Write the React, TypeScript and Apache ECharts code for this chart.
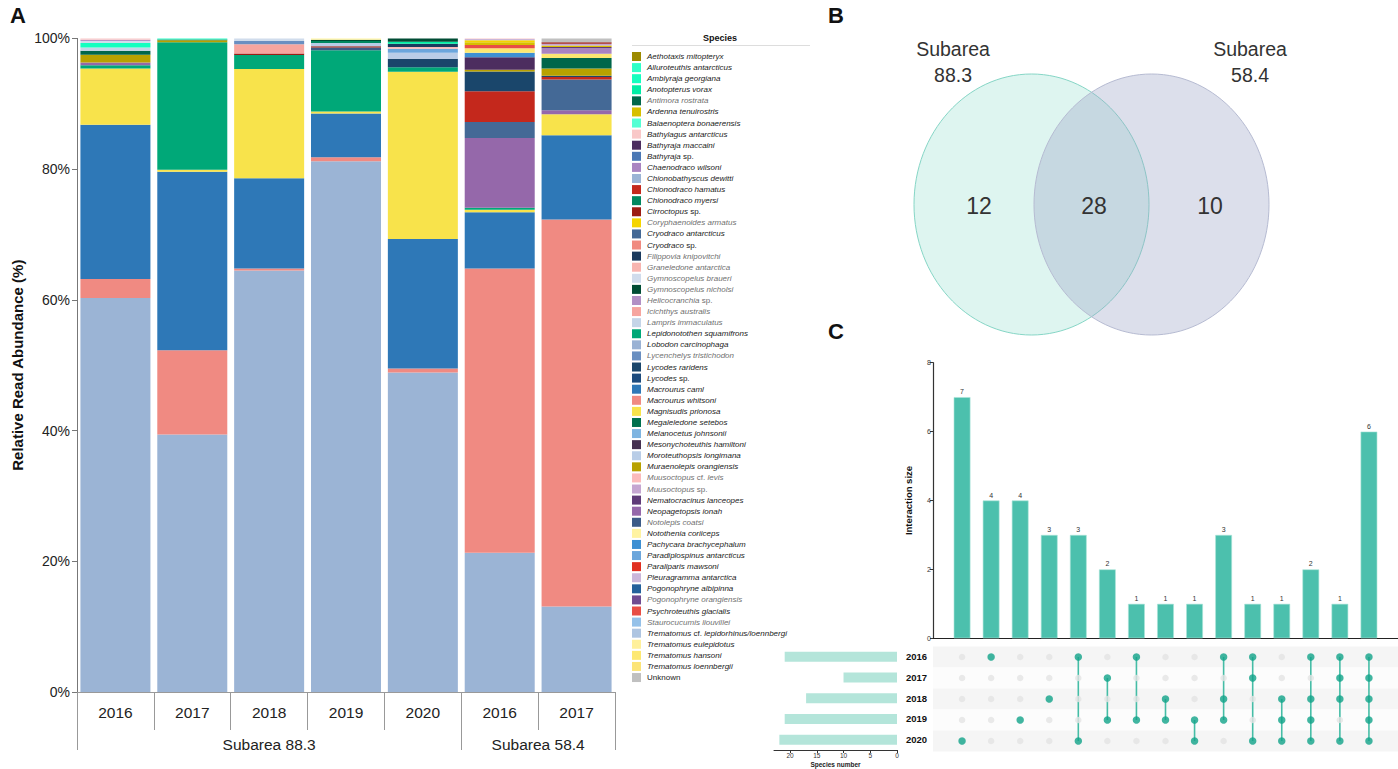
import React, { useEffect, useRef } from 'react';
import * as echarts from 'echarts';

// ---------- Panel A data ----------
const categories = ['88.3-2016', '88.3-2017', '88.3-2018', '88.3-2019', '88.3-2020', '58.4-2016', '58.4-2017'];
const subareaLabels = ['Subarea 88.3', 'Subarea 58.4'];
const subareaCenters = [2.5, 6];
const subareaBoundaries = [0, 5, 7];

const speciesNames = [
  'Aethotaxis mitopteryx', 'Alluroteuthis antarcticus', 'Amblyraja georgiana', 'Anotopterus vorax',
  'Antimora rostrata', 'Ardenna tenuirostris', 'Balaenoptera bonaerensis', 'Bathylagus antarcticus',
  'Bathyraja maccaini', 'Bathyraja sp.', 'Chaenodraco wilsoni', 'Chionobathyscus dewitti',
  'Chionodraco hamatus', 'Chionodraco myersi', 'Cirroctopus sp.', 'Coryphaenoides armatus',
  'Cryodraco antarcticus', 'Cryodraco sp.', 'Filippovia knipovitchi', 'Graneledone antarctica',
  'Gymnoscopelus braueri', 'Gymnoscopelus nicholsi', 'Helicocranchia sp.', 'Icichthys australis',
  'Lampris immaculatus', 'Lepidonotothen squamifrons', 'Lobodon carcinophaga', 'Lycenchelys tristichodon',
  'Lycodes raridens', 'Lycodes sp.', 'Macrourus caml', 'Macrourus whitsoni',
  'Magnisudis prionosa', 'Megaleledone setebos', 'Melanocetus johnsonii', 'Mesonychoteuthis hamiltoni',
  'Moroteuthopsis longimana', 'Muraenolepis orangiensis', 'Muusoctopus cf. levis', 'Muusoctopus sp.',
  'Nematocracinus lanceopes', 'Neopagetopsis ionah', 'Notolepis coatsi', 'Notothenia coriiceps',
  'Pachycara brachycephalum', 'Paradiplospinus antarcticus', 'Paraliparis mawsoni', 'Pleuragramma antarctica',
  'Pogonophryne albipinna', 'Pogonophryne orangiensis', 'Psychroteuthis glacialis', 'Staurocucumis liouvillei',
  'Trematomus cf. lepidorhinus/loennbergi', 'Trematomus eulepidotus', 'Trematomus hansoni', 'Trematomus loennbergii',
  'Unknown',
];

const speciesColors = [
  '#9c8a00', '#2effc8', '#14ffbf', '#00eea6',
  '#00664a', '#d7bf00', '#55ffd4', '#f9c8c8',
  '#4c2d5f', '#4b78b5', '#aa84c1', '#9bb4d5',
  '#c4281c', '#00875f', '#9c1c14', '#f5d500',
  '#446996', '#f08a80', '#1a3a5e', '#f8b5b0',
  '#d0dcec', '#004d34', '#b290c5', '#f6a59f',
  '#c5d5e8', '#00a878', '#9ab2d4', '#6a8fc1',
  '#1a466b', '#1c4b7d', '#2e78b7', '#f08a82',
  '#f8e34b', '#00704e', '#7fb5e1', '#453050',
  '#b9cde7', '#b8a100', '#fbbbbb', '#c5a6d1',
  '#5f3b78', '#9568aa', '#3c5b87', '#fff3a1',
  '#3e90d3', '#6ba6dc', '#e03021', '#cab6da',
  '#23619b', '#6f4b91', '#e84e45', '#95c1e9',
  '#aec5e1', '#fff09b', '#fde871', '#fce477',
  '#c0c0c0',
];

const graySpecies = [
  'Antimora rostrata', 'Coryphaenoides armatus', 'Filippovia knipovitchi', 'Graneledone antarctica',
  'Gymnoscopelus braueri', 'Gymnoscopelus nicholsi', 'Helicocranchia sp.', 'Icichthys australis',
  'Lampris immaculatus', 'Lycenchelys tristichodon', 'Muusoctopus cf. levis', 'Muusoctopus sp.',
  'Notolepis coatsi', 'Pogonophryne orangiensis', 'Staurocucumis liouvillei',
];

// stacking order, bottom -> top
const stackOrder = [
  'Chionobathyscus dewitti', 'Macrourus whitsoni', 'Macrourus caml', 'Magnisudis prionosa',
  'Lepidonotothen squamifrons', 'Neopagetopsis ionah', 'Cryodraco antarcticus', 'Chionodraco hamatus',
  'Lycodes raridens', 'Notolepis coatsi', 'Muraenolepis orangiensis', 'Antimora rostrata',
  'Bathyraja maccaini', 'Pachycara brachycephalum', 'Trematomus hansoni', 'Chaenodraco wilsoni',
  'Psychroteuthis glacialis', 'Nematocracinus lanceopes', 'Ardenna tenuirostris', 'Coryphaenoides armatus',
  'Pleuragramma antarctica', 'Muusoctopus sp.', 'Cirroctopus sp.', 'Moroteuthopsis longimana',
  'Paradiplospinus antarcticus', 'Muusoctopus cf. levis', 'Icichthys australis', 'Lycenchelys tristichodon',
  'Filippovia knipovitchi', 'Lampris immaculatus', 'Chionodraco myersi', 'Amblyraja georgiana',
  'Anotopterus vorax', 'Gymnoscopelus nicholsi', 'Gymnoscopelus braueri', 'Notothenia coriiceps',
  'Helicocranchia sp.', 'Alluroteuthis antarcticus', 'Bathylagus antarcticus', 'Unknown',
];

// relative read abundance (%) per species in stackOrder, columns = categories
const abundance = [
  [60.3, 39.4, 64.5, 81.2, 48.9, 21.3, 13.1],
  [2.9, 12.9, 0.3, 0.6, 0.6, 43.5, 59.2],
  [23.6, 27.3, 13.8, 6.7, 19.8, 8.6, 12.9],
  [8.6, 0.3, 16.7, 0.3, 25.6, 0.4, 3.2],
  [0.5, 19.5, 2.15, 9.4, 0.7, 0.3, 0],
  [0.4, 0, 0, 0, 0, 10.65, 0.6],
  [0, 0, 0, 0, 0, 2.45, 4.7],
  [0, 0, 0, 0, 0, 4.7, 0.4],
  [0, 0, 0, 0, 1.3, 3.05, 0.2],
  [0, 0, 0, 0.4, 0, 0, 0],
  [1.2, 0.3, 0, 0, 0, 0.25, 1.1],
  [0.6, 0.15, 0, 0, 0, 0, 1.6],
  [0, 0, 0, 0, 0, 1.9, 0],
  [0, 0, 0, 0, 0, 0.7, 0],
  [0, 0, 0, 0, 0, 0.7, 0.65],
  [0, 0, 0, 0, 0, 0, 0.85],
  [0, 0, 0, 0, 0, 0.5, 0],
  [0, 0, 0, 0, 0, 0, 0.2],
  [0, 0, 0, 0, 0, 0.4, 0.2],
  [0, 0, 0, 0, 0, 0.3, 0],
  [0, 0, 0, 0, 0, 0.2, 0],
  [0, 0, 0, 0, 0, 0, 0.3],
  [0, 0, 0.25, 0.2, 0, 0, 0.2],
  [0, 0, 0, 0.5, 0.9, 0, 0],
  [0, 0, 0, 0, 0.6, 0, 0],
  [0, 0, 0, 0, 0.3, 0, 0],
  [0, 0, 1.4, 0, 0, 0, 0],
  [0, 0, 0.5, 0, 0, 0, 0],
  [0, 0, 0, 0, 0.5, 0, 0],
  [0.5, 0, 0, 0, 0, 0, 0],
  [0, 0, 0, 0.3, 0, 0, 0],
  [0.7, 0, 0, 0, 0, 0, 0],
  [0, 0, 0, 0, 0.3, 0, 0],
  [0, 0, 0, 0.2, 0.5, 0, 0],
  [0.3, 0, 0.4, 0, 0, 0, 0],
  [0, 0, 0, 0.2, 0, 0, 0],
  [0.2, 0, 0, 0, 0, 0, 0],
  [0, 0.15, 0, 0, 0, 0, 0],
  [0.2, 0, 0, 0, 0, 0.1, 0],
  [0, 0, 0, 0, 0, 0, 0.6],
];

// ---------- Panel B data ----------
const vennSetLabels = ['Subarea\n88.3', 'Subarea\n58.4'];
const vennCounts = [12, 28, 10];

// ---------- Panel C data ----------
const upsetSets = ['2016', '2017', '2018', '2019', '2020'];
const setSizes = [21, 10, 17, 21, 22];
const intersectionSizes = [7, 4, 4, 3, 3, 2, 1, 1, 1, 3, 1, 1, 2, 1, 6];
const intersectionMembers = [
  [4], [0], [3], [2], [0, 4], [1, 3], [0, 3], [2, 3], [3, 4],
  [0, 2, 3], [0, 1, 4], [2, 3, 4], [0, 2, 3, 4], [0, 1, 2, 4], [0, 1, 2, 3, 4],
];

const FONT = '"Liberation Sans", Arial, Helvetica, sans-serif';

function legendFormatter(name: string) {
  const gray = graySpecies.includes(name);
  const it = gray ? 'gi' : 'i';
  const nm = gray ? 'gn' : 'n';
  if (name === 'Unknown') return `{${nm}|Unknown}`;
  return name
    .split(' ')
    .map((p) => (p === 'sp.' || p === 'cf.' ? `{${nm}|${p}}` : `{${it}|${p}}`))
    .join(`{${it}| }`);
}

function buildOption() {
  const restNames = speciesNames.filter((n) => !stackOrder.includes(n));
  const barSeries = [...stackOrder, ...restNames].map((name) => {
    const idx = stackOrder.indexOf(name);
    const values = idx >= 0 ? abundance[idx] : categories.map(() => 0);
    return {
      type: 'bar',
      name,
      stack: 'abundance',
      xAxisIndex: 0,
      yAxisIndex: 0,
      barWidth: 70,
      data: values,
      itemStyle: { color: speciesColors[speciesNames.indexOf(name)] },
      emphasis: { disabled: true },
    };
  });

  const inactiveDots: number[][] = [];
  const activeDots: number[][] = [];
  intersectionMembers.forEach((m, c) => {
    upsetSets.forEach((_, r) => {
      (m.includes(r) ? activeDots : inactiveDots).push([c, r]);
    });
  });
  const connectors = intersectionMembers
    .map((m, c) => [c, Math.min(...m), Math.max(...m)])
    .filter((d) => d[1] !== d[2]);

  const richBase = { fontFamily: FONT, fontSize: 8, lineHeight: 9 };

  return {
    animation: false,
    textStyle: { fontFamily: FONT },
    grid: [
      { left: 77, top: 38.4, width: 538, height: 653.6 },
      { left: 933, top: 362.7, width: 465, height: 275.6 },
      { left: 933, top: 646.5, width: 465, height: 105 },
      { left: 774, top: 646.5, width: 123, height: 105 },
    ],
    legend: {
      show: true,
      orient: 'vertical',
      left: 632,
      top: 52,
      padding: 0,
      itemWidth: 9,
      itemHeight: 9,
      itemGap: 2.09,
      icon: 'rect',
      selectedMode: false,
      data: speciesNames,
      formatter: legendFormatter,
      textStyle: {
        fontFamily: FONT,
        fontSize: 8,
        lineHeight: 9,
        color: '#222',
        padding: [0, 0, 0, 1],
        rich: {
          i: { ...richBase, fontStyle: 'italic', color: '#222' },
          n: { ...richBase, color: '#222' },
          gi: { ...richBase, fontStyle: 'italic', color: '#6f6f6f' },
          gn: { ...richBase, color: '#6f6f6f' },
        },
      },
    },
    xAxis: [
      {
        gridIndex: 0,
        type: 'category',
        data: categories,
        axisLine: { lineStyle: { color: '#999', width: 1 } },
        axisTick: { show: true, interval: 0, length: 38, lineStyle: { color: '#999' } },
        axisLabel: {
          interval: 0,
          formatter: (v: string) => v.split('-')[1],
          fontSize: 15.5,
          color: '#222',
          margin: 12,
        },
        splitLine: { show: false },
      },
      {
        gridIndex: 0,
        type: 'value',
        position: 'bottom',
        min: 0,
        max: 7,
        axisLine: { show: false },
        splitLine: { show: false },
        axisTick: { show: true, length: 58, customValues: subareaBoundaries, lineStyle: { color: '#999' } },
        axisLabel: {
          customValues: subareaCenters,
          formatter: (v: number) => subareaLabels[subareaCenters.indexOf(v)] ?? '',
          fontSize: 15.5,
          color: '#222',
          margin: 44,
        },
      },
      {
        gridIndex: 1,
        type: 'value',
        min: -1,
        max: 15,
        axisLine: { show: true, onZero: false, lineStyle: { color: '#222', width: 1 } },
        axisTick: { show: false },
        axisLabel: { show: false },
        splitLine: { show: false },
      },
      {
        gridIndex: 2,
        type: 'value',
        min: -1,
        max: 15,
        show: false,
      },
      {
        gridIndex: 3,
        type: 'value',
        inverse: true,
        min: 0,
        max: 23,
        axisLine: { show: true, onZero: false, lineStyle: { color: '#333', width: 1 } },
        axisTick: { show: true, length: 3, customValues: [0, 5, 10, 15, 20], lineStyle: { color: '#333' } },
        axisLabel: { customValues: [0, 5, 10, 15, 20], fontSize: 6.5, color: '#333', margin: 2 },
        splitLine: { show: false },
        name: 'Species number',
        nameLocation: 'middle',
        nameGap: 11,
        nameTextStyle: { fontSize: 6.5, fontWeight: 'bold', color: '#222' },
      },
    ],
    yAxis: [
      {
        gridIndex: 0,
        type: 'value',
        min: 0,
        max: 100,
        interval: 20,
        axisLine: { show: true, onZero: false, lineStyle: { color: '#777', width: 1 } },
        axisTick: { show: true, length: 5, lineStyle: { color: '#777' } },
        axisLabel: { formatter: '{value}%', fontSize: 14, color: '#222', margin: 7 },
        splitLine: { show: false },
        name: 'Relative Read Abundance (%)',
        nameLocation: 'middle',
        nameGap: 52,
        nameTextStyle: { fontSize: 15, fontWeight: 'bold', color: '#111' },
      },
      {
        gridIndex: 1,
        type: 'value',
        min: 0,
        max: 8,
        interval: 2,
        axisLine: { show: true, onZero: false, lineStyle: { color: '#333', width: 1.2 } },
        axisTick: { show: true, length: 3, lineStyle: { color: '#333' } },
        axisLabel: { fontSize: 7, color: '#333', margin: 2 },
        splitLine: { show: false },
        name: 'Interaction size',
        nameLocation: 'middle',
        nameGap: 20,
        nameTextStyle: { fontSize: 9.5, fontWeight: 'bold', color: '#111' },
      },
      {
        gridIndex: 2,
        type: 'category',
        data: upsetSets,
        inverse: true,
        axisLine: { show: false },
        axisTick: { show: false },
        axisLabel: { show: false },
        splitLine: { show: false },
        splitArea: { show: true, areaStyle: { color: ['#f5f5f5', '#fcfcfc'] } },
      },
      {
        gridIndex: 3,
        type: 'category',
        data: upsetSets,
        inverse: true,
        position: 'right',
        axisLine: { show: false },
        axisTick: { show: false },
        axisLabel: { fontSize: 9.5, fontWeight: 'bold', color: '#111', margin: 9 },
        splitLine: { show: false },
      },
    ],
    series: [
      ...barSeries,
      {
        type: 'bar',
        name: 'intersections',
        xAxisIndex: 2,
        yAxisIndex: 1,
        barWidth: 16.7,
        data: intersectionSizes.map((v, i) => [i, v]),
        itemStyle: { color: '#4cc0ad', borderColor: '#a9e4d9', borderWidth: 0.6 },
        label: { show: true, position: 'top', distance: 2, fontSize: 7, color: '#333' },
        emphasis: { disabled: true },
      },
      {
        type: 'scatter',
        name: 'inactive',
        xAxisIndex: 3,
        yAxisIndex: 2,
        symbolSize: 6.5,
        data: inactiveDots,
        itemStyle: { color: '#e3e3e3' },
        emphasis: { disabled: true },
      },
      {
        type: 'custom',
        name: 'connectors',
        xAxisIndex: 3,
        yAxisIndex: 2,
        data: connectors,
        renderItem: (_p: any, api: any) => {
          const a = api.coord([api.value(0), api.value(1)]);
          const b = api.coord([api.value(0), api.value(2)]);
          return {
            type: 'line',
            shape: { x1: a[0], y1: a[1], x2: b[0], y2: b[1] },
            style: { stroke: '#45bda6', lineWidth: 1.6 },
          };
        },
      },
      {
        type: 'scatter',
        name: 'active',
        xAxisIndex: 3,
        yAxisIndex: 2,
        symbolSize: 7.5,
        data: activeDots,
        itemStyle: { color: '#10a388' },
        emphasis: { disabled: true },
      },
      {
        type: 'bar',
        name: 'setSizes',
        xAxisIndex: 4,
        yAxisIndex: 3,
        barWidth: 10,
        data: setSizes,
        itemStyle: { color: '#b4e5da' },
        emphasis: { disabled: true },
      },
    ],
    graphic: [
      { type: 'text', left: 10, top: 4, style: { text: 'A', fontSize: 22, fontWeight: 'bold', fill: '#111', fontFamily: FONT } },
      { type: 'text', left: 828, top: 4, style: { text: 'B', fontSize: 22, fontWeight: 'bold', fill: '#111', fontFamily: FONT } },
      { type: 'text', left: 828, top: 320, style: { text: 'C', fontSize: 22, fontWeight: 'bold', fill: '#111', fontFamily: FONT } },
      {
        type: 'text', x: 720, y: 38,
        style: { text: 'Species', fontSize: 9, fontWeight: 'bold', fill: '#111', align: 'center', verticalAlign: 'middle', fontFamily: FONT },
      },
      { type: 'line', shape: { x1: 632, y1: 45.5, x2: 810, y2: 45.5 }, style: { stroke: '#dddddd', lineWidth: 1 } },
      {
        type: 'ellipse', z: 1,
        shape: { cx: 1031.5, cy: 204.5, rx: 117.5, ry: 130.5 },
        style: { fill: 'rgba(125,215,195,0.25)', stroke: '#86d6c6', lineWidth: 1 },
      },
      {
        type: 'ellipse', z: 2,
        shape: { cx: 1151.5, cy: 204.5, rx: 117.5, ry: 130.5 },
        style: { fill: 'rgba(154,163,197,0.35)', stroke: '#b6bbd2', lineWidth: 1 },
      },
      {
        type: 'text', x: 953, y: 62, z: 3,
        style: { text: vennSetLabels[0], fontSize: 19.5, lineHeight: 26, fill: '#333', align: 'center', verticalAlign: 'middle', fontFamily: FONT },
      },
      {
        type: 'text', x: 1250, y: 62, z: 3,
        style: { text: vennSetLabels[1], fontSize: 19.5, lineHeight: 26, fill: '#333', align: 'center', verticalAlign: 'middle', fontFamily: FONT },
      },
      {
        type: 'text', x: 979, y: 206, z: 3,
        style: { text: String(vennCounts[0]), fontSize: 23, fill: '#333', align: 'center', verticalAlign: 'middle', fontFamily: FONT },
      },
      {
        type: 'text', x: 1094, y: 206, z: 3,
        style: { text: String(vennCounts[1]), fontSize: 23, fill: '#333', align: 'center', verticalAlign: 'middle', fontFamily: FONT },
      },
      {
        type: 'text', x: 1210, y: 206, z: 3,
        style: { text: String(vennCounts[2]), fontSize: 23, fill: '#333', align: 'center', verticalAlign: 'middle', fontFamily: FONT },
      },
    ],
  };
}

export default function App() {
  const ref = useRef<HTMLDivElement>(null);
  useEffect(() => {
    if (!ref.current) return;
    const chart = echarts.init(ref.current, null, { renderer: 'svg' });
    chart.setOption(buildOption() as any);
    return () => chart.dispose();
  }, []);
  return (
    <div
      ref={ref}
      style={{ position: 'absolute', left: 0, top: 0, width: 1398, height: 769, background: '#ffffff' }}
    />
  );
}
